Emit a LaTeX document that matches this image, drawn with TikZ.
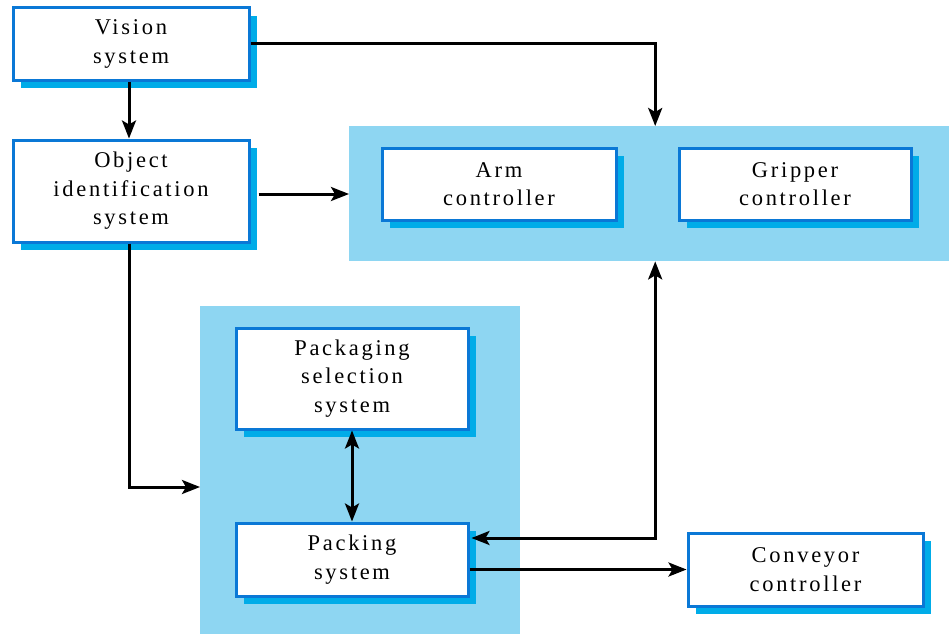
\documentclass[tikz,border=0pt]{standalone}
\usepackage{fontspec}
\setmainfont{Liberation Serif}[LetterSpace=12]
\usetikzlibrary{arrows.meta,shadows,calc}
\definecolor{regblue}{RGB}{142,214,242}
\definecolor{bordblue}{RGB}{10,120,214}
\definecolor{shadblue}{RGB}{0,172,232}
\begin{document}
\begin{tikzpicture}[x=1pt,y=-1pt,
  region/.style={fill=regblue,draw=none,inner sep=0pt,anchor=north west},
  blk/.style={draw=bordblue,line width=3pt,fill=white,align=center,inner sep=0pt,
    font=\fontsize{22.5}{28.5}\selectfont,
    general shadow={fill=shadblue,shadow xshift=8pt,shadow yshift=-8pt}},
  tip/.tip={Stealth[length=18pt,width=14pt,inset=4pt]},
  conn/.style={line width=3pt,-tip},
  dconn/.style={line width=3pt,tip-tip}]
\useasboundingbox (0,0) rectangle (949,634);
% regions
\node[region,minimum width=600pt,minimum height=135pt] (armreg) at (349,126) {};
\node[region,minimum width=320pt,minimum height=328pt] (pkgreg) at (200,306) {};
% blocks
\node[blk,minimum width=236pt,minimum height=72pt] (vision) at (131,44) {Vision\\system};
\node[blk,minimum width=236pt,minimum height=102pt] (objid) at (131,191) {Object\\identification\\system};
\node[blk,minimum width=234pt,minimum height=72pt] (arm) at (499,184) {Arm\\controller};
\node[blk,minimum width=232pt,minimum height=72pt] (grip) at (795,184) {Gripper\\controller};
\node[blk,minimum width=232pt,minimum height=101pt] (pkgsel) at (352,378.5) {Packaging\\selection\\system};
\node[blk,minimum width=232pt,minimum height=73pt] (packing) at (352,559.5) {Packing\\system};
\node[blk,minimum width=235pt,minimum height=73pt] (conv) at (805.5,569.5) {Conveyor\\controller};
% connectors
\coordinate (armtop) at ($(armreg.north)+(6,0)$);
\coordinate (armbot) at ($(armreg.south)+(6,0)$);
\coordinate (pkgin) at (pkgreg.west |- 0,487);
\draw[conn] ([xshift=-2pt]vision.south) -- ([xshift=-2pt]objid.north);
\draw[conn] (vision.east) -| (armtop);
\draw[conn] ([xshift=8pt,yshift=-3pt]objid.east) -- (armreg.west |- {$(objid.east)+(0,3)$});
\draw[conn] ([xshift=-2pt]objid.south) |- (pkgin);
\draw[dconn] (pkgsel.south) -- (packing.north);
\draw[dconn] (armbot) |- ([yshift=21.5pt,xshift=2pt]packing.east);
\draw[conn] (packing.east |- conv.west) -- (conv.west);
\end{tikzpicture}
\end{document}
